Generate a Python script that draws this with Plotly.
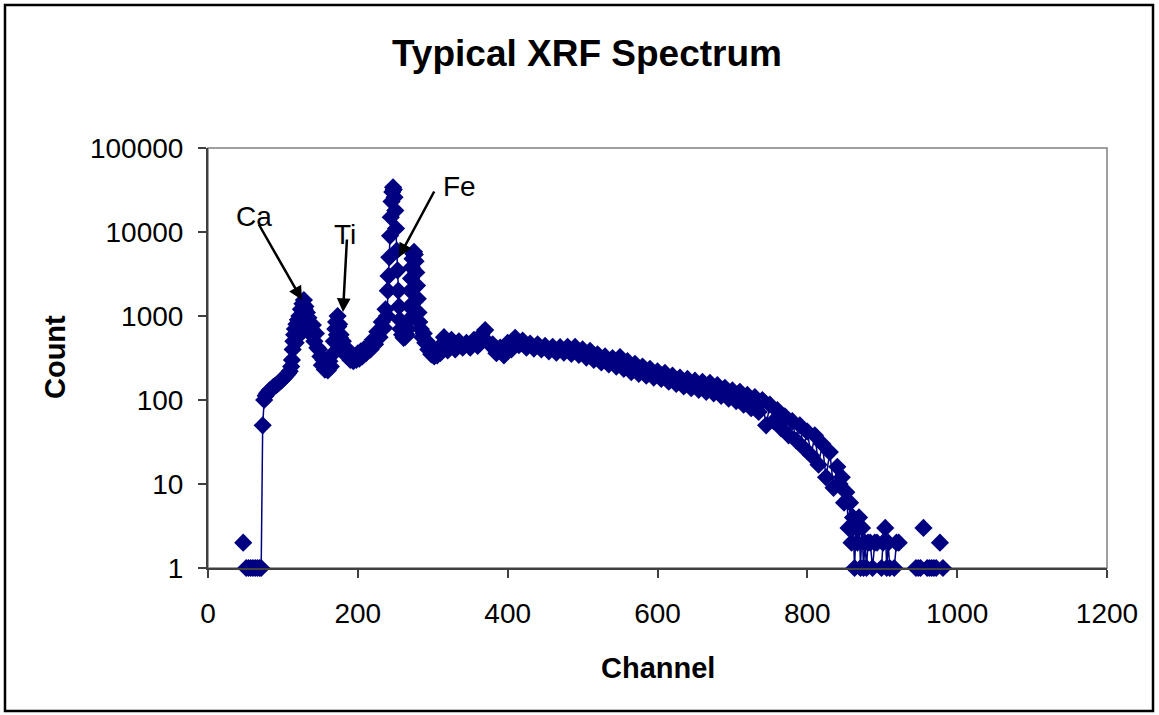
import plotly.graph_objects as go

# ---------------- data ----------------
channels = [
    47, 49, 51, 54, 57, 60, 63, 66, 69, 71, 73, 75, 77, 79, 81, 83, 85, 87, 89, 91,
    93, 95, 97, 99, 101, 103, 105, 107, 109, 111, 112, 113, 114, 115, 116, 117, 118, 119, 120, 121,
    122, 123, 124, 125, 126, 127, 128, 129, 130, 131, 132, 133, 134, 135, 136, 138, 140, 142, 144, 146,
    148, 150, 152, 154, 156, 158, 160, 162, 164, 166, 168, 170, 171, 172, 173, 174, 175, 176, 177, 178,
    180, 182, 184, 186, 188, 190, 192, 194, 196, 198, 200, 202, 204, 206, 208, 211, 214, 217, 220, 223,
    226, 229, 232, 235, 237, 239, 240, 241, 242, 243, 244, 245, 246, 247, 248, 249, 250, 251, 252, 253,
    254, 255, 256, 257, 259, 261, 263, 265, 267, 268, 269, 270, 271, 272, 273, 274, 275, 276, 277, 278,
    279, 280, 281, 282, 284, 286, 288, 290, 292, 294, 296, 298, 300, 302, 304, 306, 308,
    310, 315, 320, 325, 330, 335, 340, 345, 350, 355, 360, 365, 370, 375, 380, 385, 390, 395, 400, 405,
    410, 415, 420, 425, 430, 435, 440, 445, 450, 455, 460, 465, 470, 475, 480, 485, 490, 495, 500, 505,
    510, 515, 520, 525, 530, 535, 540, 545, 550, 555, 560, 565, 570, 575, 580, 585, 590, 595, 600, 605,
    610, 615, 620, 625, 630, 635, 640, 645, 650, 655, 660, 665, 670, 675, 680, 685, 690, 695, 700, 705,
    710, 715, 720, 725, 730, 735, 740, 745, 750, 755, 760, 765, 770, 775, 780, 785, 790, 795, 800, 805,
    810, 815, 820, 825, 830, 835, 840, 843, 846, 849, 852,
    855, 857, 859, 861, 863, 865, 867, 869, 871, 873, 875, 877, 879, 881, 884, 887, 890, 893, 896, 899,
    901, 904, 906, 908, 910, 913, 916, 919, 922, 924, 945, 948, 951, 953, 955, 957, 960, 963, 966, 969,
    972, 975, 977, 979, 981,
]

counts = [
    2, 0, 1, 1, 1, 1, 1, 1, 1, 1, 50, 100, 112, 120, 126, 132, 136, 142, 146, 150,
    156, 162, 168, 175, 182, 190, 198, 208, 220, 250, 300, 400, 500, 600, 700, 480, 800, 560, 900, 650,
    1000, 750, 1200, 900, 1400, 1000, 1550, 1200, 1300, 950, 1100, 800, 950, 700, 800, 600, 780, 500, 620, 420,
    400, 330, 260, 300, 230, 280, 225, 290, 250, 350, 500, 700, 850, 600, 1000, 750, 800, 550, 600, 420,
    500, 380, 420, 330, 370, 300, 340, 290, 330, 300, 360, 310, 380, 330, 400, 360, 440, 400, 520, 460,
    650, 560, 850, 720, 1200, 1000, 2000, 3000, 5000, 9000, 15000, 23000, 30000, 34000, 32000, 26000, 18000, 11000, 6000, 3500,
    2000, 1300, 900, 700, 600, 550, 560, 600, 700, 900, 1300, 2000, 2800, 3800, 4800, 5500, 5800, 5400, 4500, 3300,
    2300, 1600, 1100, 850, 700, 560, 620, 480, 500, 400, 450, 350, 400, 330, 360, 340, 420,
    360, 560, 390, 520, 400, 500, 420, 480, 420, 520, 440, 600, 680, 470, 460, 360, 420, 340, 480, 400,
    550, 450, 510, 420, 470, 410, 460, 400, 440, 380, 430, 365, 425, 365, 430, 355, 430, 345, 400, 320,
    385, 300, 350, 280, 330, 265, 315, 250, 325, 235, 290, 215, 270, 205, 250, 195, 235, 185, 220, 178,
    210, 165, 195, 155, 185, 145, 178, 138, 170, 132, 165, 125, 160, 120, 150, 112, 140, 104, 130, 97,
    125, 88, 115, 80, 108, 72, 100, 50, 88, 56, 76, 46, 64, 38, 56, 33, 50, 27, 42, 22,
    38, 17, 30, 12, 24, 9, 16, 10, 12, 6, 8,
    3, 6, 2, 4, 1, 3, 2, 4, 1, 3, 1, 2, 1, 2, 2, 1, 2, 2, 0, 1,
    2, 3, 1, 2, 1, 0, 1, 2, 2, 0, 1, 1, 1, 0, 3, 0, 1, 1, 1, 1,
    1, 0, 2, 0, 1,
]

x_ticks = [0, 200, 400, 600, 800, 1000, 1200]
y_ticks = [1, 10, 100, 1000, 10000, 100000]
y_tick_labels = ["1", "10", "100", "1000", "10000", "100000"]

peak_labels = ["Ca", "Ti", "Fe"]

# zero counts cannot be drawn on a log axis -> gaps
y_vals = [c if c > 0 else None for c in counts]

NAVY = "#000080"
FONT = "Liberation Sans, Arial, sans-serif"

W, H = 1159, 715
L, R, T, B = 208, 52, 148, 147
PW, PH = W - L - R, H - T - B


def dx(px):
    return (px - L) / PW


def dy(py):
    return (H - B - py) / PH


fig = go.Figure()
fig.add_trace(go.Scatter(
    x=channels, y=y_vals, mode="lines+markers",
    line=dict(color=NAVY, width=1.5),
    marker=dict(symbol="diamond", size=14, color=NAVY, line=dict(width=0)),
    connectgaps=False, cliponaxis=False, showlegend=False,
))

axis_common = dict(
    showgrid=False, zeroline=False, showline=True, linecolor="#404040", linewidth=2,
    ticks="outside", ticklen=8, tickwidth=1.5, tickcolor="#404040",
    tickfont=dict(family=FONT, size=28, color="black"),
)

fig.update_layout(
    width=W, height=H,
    margin=dict(l=L, r=R, t=T, b=B),
    paper_bgcolor="white", plot_bgcolor="white",
    xaxis=dict(range=[0, 1200], tickvals=x_ticks, ticklabelstandoff=11, **axis_common),
    yaxis=dict(type="log", range=[0, 5], tickvals=y_ticks, ticktext=y_tick_labels,
               ticklabelstandoff=9, **axis_common),
    shapes=[
        # plot-area border (top / right in grey)
        dict(type="rect", xref="x domain", yref="y domain", x0=0, x1=1, y0=0, y1=1,
             line=dict(color="#808080", width=1.5), layer="below"),
        # outer chart border
        dict(type="rect", xref="paper", yref="paper", x0=dx(5), x1=dx(1153), y0=dy(5), y1=dy(711),
             line=dict(color="black", width=2.5)),
    ],
)

annots = [
    dict(text="<b>Typical XRF Spectrum</b>", x=dx(587), y=dy(54), size=37),
    dict(text="<b>Channel</b>", x=dx(658), y=dy(668), size=29),
    dict(text="<b>Count</b>", x=dx(55), y=dy(357), size=29, textangle=-90),
    dict(text=peak_labels[0], x=dx(254), y=dy(216), size=28),
    dict(text=peak_labels[1], x=dx(345), y=dy(234), size=28),
    dict(text=peak_labels[2], x=dx(459), y=dy(186), size=28),
]
for a in annots:
    fig.add_annotation(
        text=a["text"], xref="x domain", yref="y domain", x=a["x"], y=a["y"],
        xanchor="center", yanchor="middle", showarrow=False,
        textangle=a.get("textangle", 0),
        font=dict(family=FONT, size=a["size"], color="black"),
    )

# arrows: (tail px, tip px)
arrows = [((258, 223), (302, 300)), ((347, 238), (343, 312)), ((435, 190), (399, 257))]
for (tx, ty), (hx, hy) in arrows:
    fig.add_annotation(
        text="", xref="x domain", yref="y domain", axref="x domain", ayref="y domain",
        x=dx(hx), y=dy(hy), ax=dx(tx), ay=dy(ty), showarrow=True,
        arrowhead=2, arrowsize=1.1, arrowwidth=2.5, arrowcolor="black", standoff=0,
    )

fig.write_html("out.html")
